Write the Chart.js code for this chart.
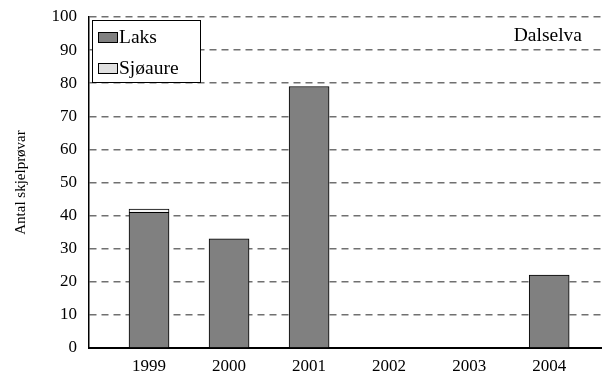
<!DOCTYPE html>
<html>
<head>
<meta charset="utf-8">
<script src="https://cdn.jsdelivr.net/npm/chart.js@4/dist/chart.umd.min.js"></script>
<style>
  html, body { margin: 0; padding: 0; background: #fff; }
  #wrap { width: 602px; height: 371px; }
</style>
</head>
<body>
<div id="wrap"><canvas id="chart" width="602" height="371"></canvas></div>
<script>
// --- Datos ---
const years = [1999, 2000, 2001, 2002, 2003, 2004];
const laks = [41, 33, 79, 0, 0, 22];
const sjoaure = [1, 0, 0, 0, 0, 0];
const yTicks = [0, 10, 20, 30, 40, 50, 60, 70, 80, 90, 100];
const riverName = 'Dalselva';
const yTitle = 'Antal skjelprøvar';

const serif = '"Liberation Serif", "Times New Roman", serif';

// Leyenda dibujada dentro del área del gráfico, arriba a la izquierda
const insideLegend = {
    id: 'insideLegend',
    afterDraw(chart) {
        const ctx = chart.ctx;
        const area = chart.chartArea;
        const x = area.left + 3, y = area.top + 3;
        ctx.save();
        ctx.fillStyle = '#fff';
        ctx.fillRect(x, y, 108, 62);
        ctx.strokeStyle = '#000';
        ctx.lineWidth = 1;
        ctx.strokeRect(x + 0.5, y + 0.5, 108, 62);
        ctx.font = '19.5px ' + serif;
        ctx.textBaseline = 'middle';
        chart.data.datasets.forEach((ds, i) => {
            const rowY = y + 17 + i * 31;
            ctx.fillStyle = ds.legendColor || ds.backgroundColor;
            ctx.fillRect(x + 6, rowY - 5, 19, 10);
            ctx.strokeStyle = '#000';
            ctx.strokeRect(x + 6.5, rowY - 4.5, 19, 10);
            ctx.fillStyle = '#000';
            ctx.fillText(ds.label, x + 27, rowY + 1);
        });
        // Nombre del río
        ctx.textAlign = 'right';
        ctx.fillText(riverName, area.right - 20, area.top + 19);
        ctx.restore();
    }
};

new Chart(document.getElementById('chart'), {
    type: 'bar',
    data: {
        datasets: [
            {
                label: 'Laks',
                data: years.map((yr, i) => ({ x: yr, y: laks[i] })),
                backgroundColor: '#808080',
                borderColor: '#000',
                borderWidth: 1,
                barThickness: 40
            },
            {
                label: 'Sjøaure',
                data: years.map((yr, i) => ({ x: yr, y: sjoaure[i] || null })),
                backgroundColor: '#f4f4f4',
                legendColor: '#e0e0e0',
                borderColor: '#000',
                borderWidth: 1,
                barThickness: 40
            }
        ]
    },
    options: {
        responsive: false,
        animation: false,
        layout: { padding: { top: 17, right: 0, bottom: 0, left: 0 } },
        plugins: {
            legend: { display: false },
            tooltip: { enabled: false }
        },
        scales: {
            x: {
                type: 'linear',
                stacked: true,
                offset: false,
                min: 1998.25,
                max: 2004.66,
                afterBuildTicks: (scale) => {
                    scale.ticks = years.map(v => ({ value: v }));
                },
                afterFit: (scale) => {
                    scale.height = 23;
                    scale.paddingLeft = 0;
                    scale.paddingRight = 0;
                },
                ticks: {
                    callback: (v) => String(v),
                    color: '#000',
                    font: { family: serif, size: 17 },
                    padding: 8,
                    maxRotation: 0
                },
                grid: { display: false, drawTicks: false },
                border: { display: true, color: '#000', width: 2 }
            },
            y: {
                stacked: true,
                min: 0,
                max: 100,
                afterBuildTicks: (scale) => {
                    scale.ticks = yTicks.map(v => ({ value: v }));
                },
                afterFit: (scale) => {
                    scale.width = 89;
                    scale.paddingTop = 0;
                    scale.paddingBottom = 0;
                },
                ticks: {
                    color: '#000',
                    font: { family: serif, size: 17 },
                    padding: 12
                },
                title: {
                    display: true,
                    text: yTitle,
                    color: '#000',
                    font: { family: serif, size: 15 },
                    padding: { top: 12, bottom: 0 }
                },
                grid: {
                    color: '#707070',
                    lineWidth: 1.5,
                    drawTicks: false
                },
                border: { display: true, color: '#000', width: 1.5, dash: [7, 5] }
            }
        }
    },
    plugins: [insideLegend]
});
</script>
</body>
</html>
